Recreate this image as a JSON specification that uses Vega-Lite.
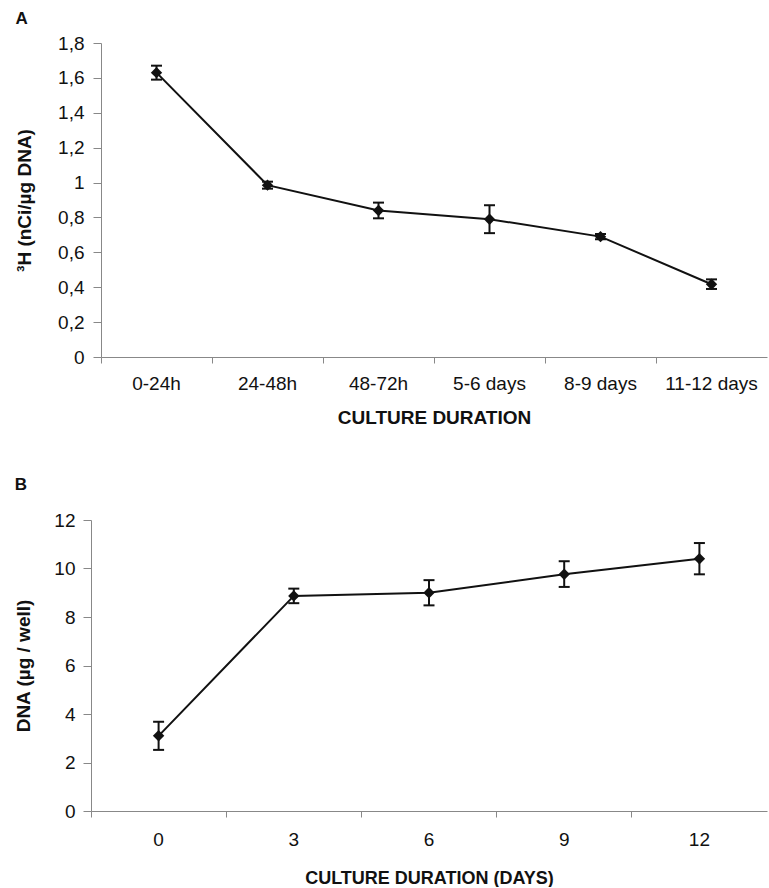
{
  "$schema": "https://vega.github.io/schema/vega-lite/v6.json",
  "padding": {"left": 14, "top": 10, "right": 0, "bottom": 0},
  "background": "white",
  "config": {
    "font": "Liberation Sans",
    "view": {"stroke": null},
    "axis": {
      "labelFont": "Liberation Sans", "labelFontSize": 19, "labelColor": "#111",
      "titleFont": "Liberation Sans", "titleFontSize": 19, "titleFontWeight": "bold", "titleColor": "#111",
      "domainColor": "#888", "tickColor": "#888", "grid": false, "tickSize": 8, "labelOverlap": false
    },
    "axisY": {"labelOverlap": false},
    "axisQuantitative": {"labelOverlap": false},
    "title": {"font": "Liberation Sans", "fontSize": 17, "fontWeight": "bold", "anchor": "start", "color": "#111", "frame": "bounds"}
  },
  "spacing": 49,
  "vconcat": [
    {
      "title": {"text": "A", "offset": 6},
      "width": 666,
      "height": 314,
      "data": {"values": [
        {"period": "0-24h", "value": 1.63, "lo": 1.59, "hi": 1.67},
        {"period": "24-48h", "value": 0.985, "lo": 0.965, "hi": 1.005},
        {"period": "48-72h", "value": 0.84, "lo": 0.795, "hi": 0.885},
        {"period": "5-6 days", "value": 0.79, "lo": 0.71, "hi": 0.87},
        {"period": "8-9 days", "value": 0.69, "lo": 0.675, "hi": 0.705},
        {"period": "11-12 days", "value": 0.417, "lo": 0.39, "hi": 0.445}
      ]},
      "encoding": {
        "x": {"field": "period", "type": "ordinal", "sort": null,
          "scale": {"type": "band", "paddingInner": 0, "paddingOuter": -0.0426, "align": 0},
          "axis": {"title": "CULTURE DURATION", "labelAngle": 0, "bandPosition": 0, "tickSize": 6, "labelPadding": 11, "titlePadding": 15}}
      },
      "layer": [
        {"mark": {"type": "line", "color": "#111", "strokeWidth": 2},
         "encoding": {"y": {"field": "value", "type": "quantitative", "scale": {"domain": [0, 1.8], "nice": false}, "title": "³H (nCi/µg DNA)",
            "axis": {"values": [0, 0.2, 0.4, 0.6, 0.8, 1, 1.2, 1.4, 1.6, 1.8], "labelExpr": "replace(format(datum.value, '.2~f'), '.', ',')", "labelPadding": 9, "titlePadding": 23, "labelOverlap": false}}}},
        {"mark": {"type": "rule", "color": "#111", "strokeWidth": 2},
         "encoding": {"y": {"field": "lo", "type": "quantitative", "title": "³H (nCi/µg DNA)",
            "axis": {"values": [0, 0.2, 0.4, 0.6, 0.8, 1, 1.2, 1.4, 1.6, 1.8], "labelExpr": "replace(format(datum.value, '.2~f'), '.', ',')", "labelPadding": 9, "titlePadding": 23, "labelOverlap": false}},
          "y2": {"field": "hi"}}},
        {"mark": {"type": "point", "shape": "M-1,0H1", "filled": false, "color": "#111", "strokeWidth": 2, "size": 121, "opacity": 1},
         "encoding": {"y": {"field": "lo", "type": "quantitative", "title": "³H (nCi/µg DNA)",
            "axis": {"values": [0, 0.2, 0.4, 0.6, 0.8, 1, 1.2, 1.4, 1.6, 1.8], "labelExpr": "replace(format(datum.value, '.2~f'), '.', ',')", "labelPadding": 9, "titlePadding": 23, "labelOverlap": false}}}},
        {"mark": {"type": "point", "shape": "M-1,0H1", "filled": false, "color": "#111", "strokeWidth": 2, "size": 121, "opacity": 1},
         "encoding": {"y": {"field": "hi", "type": "quantitative", "title": "³H (nCi/µg DNA)",
            "axis": {"values": [0, 0.2, 0.4, 0.6, 0.8, 1, 1.2, 1.4, 1.6, 1.8], "labelExpr": "replace(format(datum.value, '.2~f'), '.', ',')", "labelPadding": 9, "titlePadding": 23, "labelOverlap": false}}}},
        {"mark": {"type": "point", "shape": "diamond", "filled": true, "color": "#111", "size": 130, "opacity": 1},
         "encoding": {"y": {"field": "value", "type": "quantitative", "title": "³H (nCi/µg DNA)",
            "axis": {"values": [0, 0.2, 0.4, 0.6, 0.8, 1, 1.2, 1.4, 1.6, 1.8], "labelExpr": "replace(format(datum.value, '.2~f'), '.', ',')", "labelPadding": 9, "titlePadding": 23, "labelOverlap": false}}}}
      ]
    },
    {
      "title": {"text": "B", "offset": 17},
      "width": 666,
      "height": 291,
      "data": {"values": [
        {"day": "0", "value": 3.1, "lo": 2.52, "hi": 3.68},
        {"day": "3", "value": 8.87, "lo": 8.57, "hi": 9.17},
        {"day": "6", "value": 9.0, "lo": 8.48, "hi": 9.52},
        {"day": "9", "value": 9.76, "lo": 9.24, "hi": 10.3},
        {"day": "12", "value": 10.4, "lo": 9.76, "hi": 11.05}
      ]},
      "encoding": {
        "x": {"field": "day", "type": "ordinal", "sort": null,
          "scale": {"type": "band", "range": [-10, 666], "paddingInner": 0, "paddingOuter": -0.0275, "align": 0},
          "axis": {"title": "CULTURE DURATION (DAYS)", "titleFontSize": 18, "labelAngle": 0, "bandPosition": 0, "tickSize": 6, "labelPadding": 13, "titlePadding": 20}}
      },
      "layer": [
        {"mark": {"type": "line", "color": "#111", "strokeWidth": 2},
         "encoding": {"y": {"field": "value", "type": "quantitative", "scale": {"domain": [0, 12], "nice": false}, "title": "DNA (µg / well)",
            "axis": {"values": [0, 2, 4, 6, 8, 10, 12], "labelPadding": 8, "titlePadding": 20, "offset": 10}}}},
        {"mark": {"type": "rule", "color": "#111", "strokeWidth": 2},
         "encoding": {"y": {"field": "lo", "type": "quantitative", "title": "DNA (µg / well)",
            "axis": {"values": [0, 2, 4, 6, 8, 10, 12], "labelPadding": 8, "titlePadding": 20, "offset": 10}}, "y2": {"field": "hi"}}},
        {"mark": {"type": "point", "shape": "M-1,0H1", "filled": false, "color": "#111", "strokeWidth": 2, "size": 121, "opacity": 1},
         "encoding": {"y": {"field": "lo", "type": "quantitative", "title": "DNA (µg / well)",
            "axis": {"values": [0, 2, 4, 6, 8, 10, 12], "labelPadding": 8, "titlePadding": 20, "offset": 10}}}},
        {"mark": {"type": "point", "shape": "M-1,0H1", "filled": false, "color": "#111", "strokeWidth": 2, "size": 121, "opacity": 1},
         "encoding": {"y": {"field": "hi", "type": "quantitative", "title": "DNA (µg / well)",
            "axis": {"values": [0, 2, 4, 6, 8, 10, 12], "labelPadding": 8, "titlePadding": 20, "offset": 10}}}},
        {"mark": {"type": "point", "shape": "diamond", "filled": true, "color": "#111", "size": 130, "opacity": 1},
         "encoding": {"y": {"field": "value", "type": "quantitative", "title": "DNA (µg / well)",
            "axis": {"values": [0, 2, 4, 6, 8, 10, 12], "labelPadding": 8, "titlePadding": 20, "offset": 10}}}}
      ]
    }
  ]
}
